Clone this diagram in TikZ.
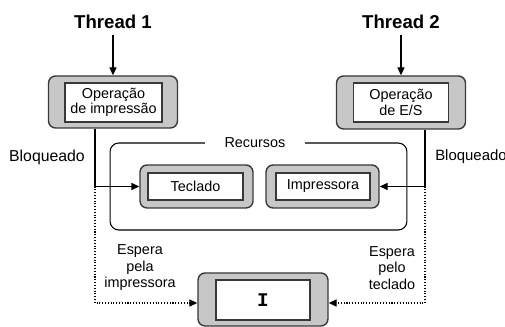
\documentclass[tikz,border=0pt]{standalone}
\usepackage{fontspec}
\setmainfont{Liberation Sans}
\setmonofont{Liberation Mono}
\usetikzlibrary{arrows.meta}
\definecolor{cinza}{gray}{0.78}
\definecolor{borda}{gray}{0.22}
\tikzset{
  caixa/.style={draw=borda, fill=cinza, rounded corners=4pt, line width=0.8pt},
  interna/.style={draw=borda, fill=white, line width=0.8pt, align=center, inner sep=0pt,
    font=\fontsize{8.2}{7.6}\selectfont},
  rotulo/.style={align=center, font=\fontsize{8.2}{9.4}\selectfont},
  titulo/.style={font=\fontsize{10.6}{12}\selectfont\bfseries}
}
\begin{document}
\begin{tikzpicture}[x=0.02cm, y=-0.02cm, line width=0.6pt, >={Triangle[length=4.5pt,width=4pt]}]
\useasboundingbox (0,0) rectangle (505,327);

% Los dos threads
\node[titulo] (t1) at (113,22) {Thread 1};
\node[titulo] (t2) at (401,22) {Thread 2};

% Operaciones de cada thread
\node[caixa, minimum width=2.58cm, minimum height=1.04cm] (op1) at (113,102) {};
\node[interna, minimum width=1.94cm, minimum height=0.78cm] (op1i) at (113.5,102.5) {Operação\\de impressão};
\node[caixa, minimum width=2.58cm, minimum height=1.06cm] (op2) at (401,102.5) {};
\node[interna, minimum width=1.9cm, minimum height=0.78cm] (op2i) at (401,102.5) {Operação\\de E/S};

% Recursos
\node[draw, rounded corners=5pt, minimum width=5.94cm, minimum height=1.74cm] (rec) at (258.5,186.5) {};
\node[rotulo, fill=white, inner xsep=0.4cm] (recl) at (255,143) {Recursos};
\node[caixa, minimum width=2.26cm, minimum height=0.86cm] (tec) at (196.5,186.5) {};
\node[interna, minimum width=1.9cm, minimum height=0.54cm] (teci) at (195.5,186.5) {Teclado};
\node[caixa, minimum width=2.26cm, minimum height=0.86cm] (imp) at (322.5,186.5) {};
\node[interna, minimum width=1.88cm, minimum height=0.54cm] (impi) at (323,186.5) {Impressora};

% El bloqueo mutuo
\node[caixa, minimum width=2.6cm, minimum height=1.06cm] (trav) at (263,299.5) {};
\node[interna, minimum width=1.88cm, minimum height=0.8cm, font=\ttfamily\bfseries\fontsize{11}{11}\selectfont] (travi) at (263,300) {I};

% Textos
\node[font=\fontsize{9}{10}\selectfont] (bl1) at (47,157) {Bloqueado};
\node[font=\fontsize{8.5}{10}\selectfont, anchor=west, inner xsep=1pt] (bl2) at (433,157) {Bloqueado};
\node[rotulo] (esp1) at (140,268) {Espera\\pela\\impressora};
\node[rotulo] (esp2) at (392,268) {Espera\\pelo\\teclado};

% Flechas
\coordinate (b1) at (95,186.5);
\coordinate (b2) at (425,186.5);
\coordinate (e1) at (95,303);
\coordinate (e2) at (425,303);
\draw[->] (t1) -- (op1);
\draw[->] (t2) -- (op2);
\draw[->] (op1.south -| b1) |- (tec.west);
\draw[->] (op2.south -| b2) |- (imp.east);
\draw[->, densely dotted] (b1) -- (e1) -- (e1 -| trav.west);
\draw[->, densely dotted] (b2) -- (e2) -- (e2 -| trav.east);
\end{tikzpicture}
\end{document}
